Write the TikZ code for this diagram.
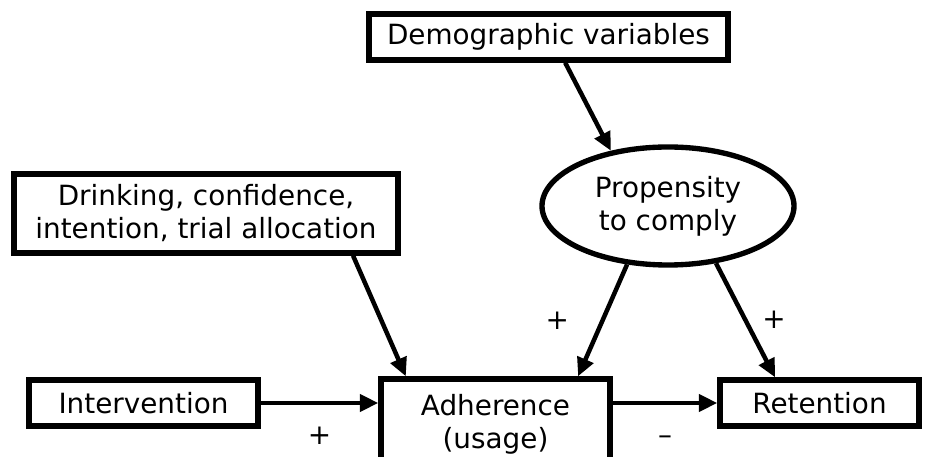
\documentclass[tikz,border=0pt]{standalone}
\usepackage{fontspec}
\setmainfont{DejaVu Sans}
\usetikzlibrary{shapes.geometric,arrows.meta}

\begin{document}
\begin{tikzpicture}[
  x=0.025cm, y=-0.025cm,
  font=\fontsize{19.8}{23.5}\selectfont,
  my box/.style={
    draw=black, line width=3.8pt,
    inner sep=0pt, align=center,
  },
  my ellipse/.style={
    my box, ellipse,
    minimum width=252*0.025cm, minimum height=118*0.025cm,
  },
  my arrow/.style={
    line width=3.2pt,
    -{Triangle[length=4.6mm,width=4.2mm]},
  }]
  \clip (0,0) rectangle (936,457);
  \node [my box, minimum width=359*0.025cm, minimum height=46*0.025cm] (demo) at (548.5,37) {Demographic variables};
  \node [my box, minimum width=384*0.025cm, minimum height=79*0.025cm] (drink) at (206,213.5) {Drinking, confidence,\\intention, trial allocation};
  \node [my ellipse] (prop) at (668,206) {Propensity\\to comply};
  \node [my box, minimum width=229*0.025cm, minimum height=46*0.025cm] (interv) at (143.5,403) {Intervention};
  \node [my box, minimum width=229*0.025cm, minimum height=90*0.025cm] (adh) at (495.5,424) {Adherence\\(usage)};
  \node [my box, minimum width=199*0.025cm, minimum height=46*0.025cm] (ret) at (819.5,403) {Retention};
  % arrows
  \draw [my arrow] (demo.-57) -- (prop.136);
  \draw [my arrow] (drink.-16) -- (adh.152);
  \draw [my arrow] (prop.-125) -- node[left=19pt] {+} (adh.30);
  \draw [my arrow] (prop.-50) -- node[right=7pt] {+} (ret.150);
  \draw [my arrow] (interv) -- node[below=12pt] {+} (adh.west |- interv);
  \draw [my arrow] (adh.east |- ret) -- node[below=12pt] {\vphantom{+}–} (ret);
\end{tikzpicture}
\end{document}
